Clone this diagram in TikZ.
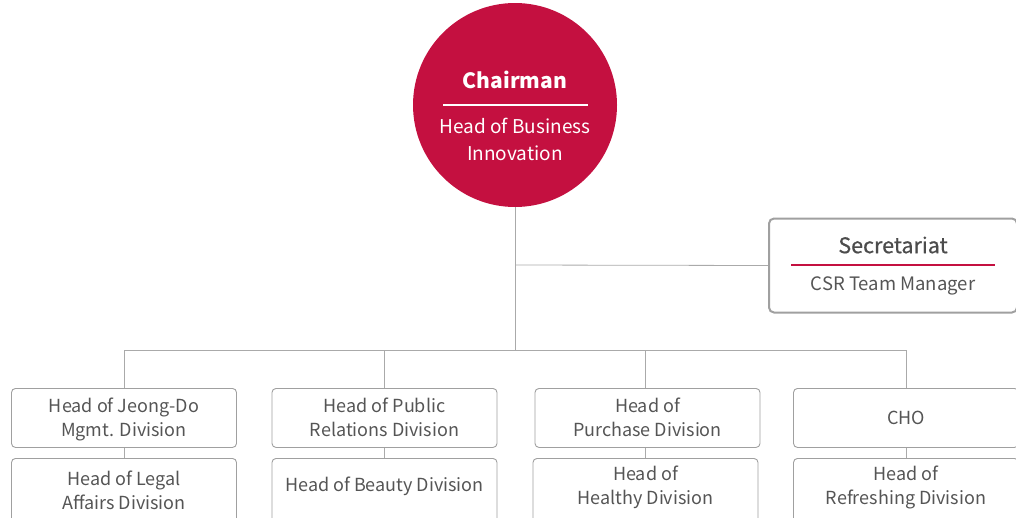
\documentclass[tikz,border=0pt]{standalone}
\usepackage{fontspec}
\setmainfont{Noto Sans CJK KR}
\newfontfamily\semibold[FakeBold=0.6]{Noto Sans CJK KR}
\definecolor{crimson}{HTML}{C41040}
\definecolor{txtgray}{HTML}{555555}
\definecolor{linegray}{HTML}{AAAAAA}
\definecolor{boxgray}{HTML}{A0A0A0}
\begin{document}
\begin{tikzpicture}[x=1pt,y=-1pt,
  conn/.style={draw=linegray,line width=0.8pt},
  unit/.style={draw=boxgray,line width=0.9pt,rounded corners=4pt,fill=white,
    minimum width=225pt,minimum height=59pt,inner sep=0pt},
  label/.style={align=center,text=txtgray,font=\fontsize{18}{24}\selectfont}]
\useasboundingbox (0,0) rectangle (1016,517);
\clip (0,0) rectangle (1016,517);
% chairman circle
\node[circle,fill=crimson,minimum size=204pt,inner sep=0pt] (chair) at (515,105) {};
\node[text=white,font=\fontsize{21}{25}\selectfont\bfseries] (chairt) at (515,80) {Chairman};
\draw[white,line width=1.5pt] (443,105) -- (588,105);
\node[text=white,align=center,font=\fontsize{19}{27}\selectfont] (chairs) at (515,139.5) {Head of Business\\Innovation};
% secretariat
\node[draw=boxgray,line width=2pt,rounded corners=5pt,fill=white,minimum width=248pt,minimum height=94pt,inner sep=0pt] (sec) at (893,265.5) {};
\node[text=black!70,font=\fontsize{21.5}{25}\semibold] (sect) at (893,245) {Secretariat};
\draw[crimson,line width=1.2pt] (791,265) -- (995,265);
\node[text=txtgray,font=\fontsize{18.5}{22}\selectfont] (secs) at (893,286) {CSR Team Manager};
% junctions
\coordinate (j1) at (515,265);
\coordinate (j2) at (515,350);
\coordinate (b1) at (124,350);
\coordinate (b2) at (384,350);
\coordinate (b3) at (645,350);
\coordinate (b4) at (906,350);
% boxes row 1
\node[unit,anchor=north] (d1) at (124,388) {};
\node[unit,anchor=north] (d2) at (384.5,388) {};
\node[unit,anchor=north] (d3) at (647.5,388) {};
\node[unit,anchor=north] (d4) at (906,388) {};
\node[label] (d1t) at (124,419) {Head of Jeong-Do\\Mgmt. Division};
\node[label] (d2t) at (384.5,417) {Head of Public\\Relations Division};
\node[label] (d3t) at (647.5,417) {Head of\\Purchase Division};
\node[label] (d4t) at (906,418) {CHO};
% boxes row 2
\node[unit,anchor=north,minimum height=66pt] (e1) at (124,458) {};
\node[unit,anchor=north,minimum height=66pt] (e2) at (384.5,458) {};
\node[unit,anchor=north,minimum height=66pt] (e3) at (645.5,458) {};
\node[unit,anchor=north,minimum height=66pt] (e4) at (906,458) {};
\node[label] (e1t) at (124,490) {Head of Legal\\Affairs Division};
\node[label] (e2t) at (384.5,486) {Head of Beauty Division};
\node[label] (e3t) at (645.5,487) {Head of\\Healthy Division};
\node[label] (e4t) at (906,487) {Head of\\Refreshing Division};
% connectors
\draw[conn] (chair.south) -- (j2);
\draw[conn] (j1) -- (sec.west);
\draw[conn] (b1) -- (b4);
\draw[conn] (b1) -- (d1.north);
\draw[conn] (b2) -- (b2 |- d2.north);
\draw[conn] (b3) -- (b3 |- d3.north);
\draw[conn] (b4) -- (d4.north);
\draw[conn] (d1.south) -- (e1.north);
\draw[conn] (b2 |- d2.south) -- (b2 |- e2.north);
\draw[conn] (b3 |- d3.south) -- (b3 |- e3.north);
\draw[conn] (d4.south) -- (e4.north);
\end{tikzpicture}
\end{document}
